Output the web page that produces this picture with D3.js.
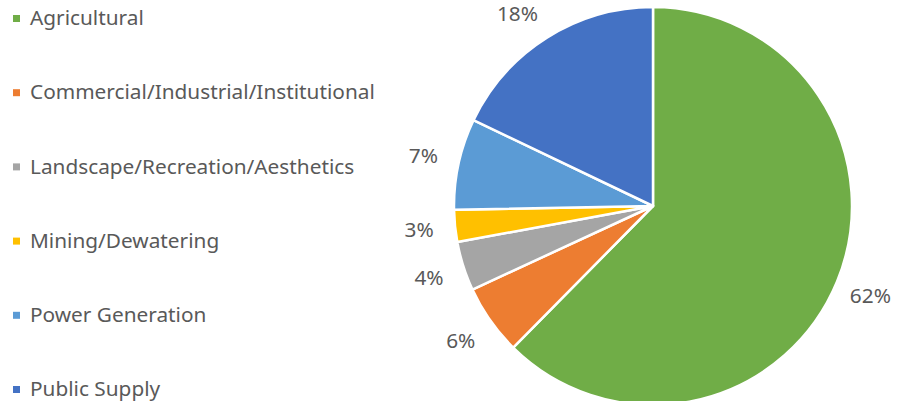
<!DOCTYPE html>
<html lang="en">
  <head>
    <meta charset="utf-8" />
    <script src="https://d3js.org/d3.v7.min.js"></script>
    <style type="text/css">
      body {
        margin: 0;
        background-color: white;
      }
      svg text {
        font-family: "Noto Sans", "Open Sans", sans-serif;
        fill: #595959;
      }
    </style>
  </head>

  <body>
    <svg id="chart" width="904" height="401"></svg>

    <script>
      // categories and values (percent of total use)
      let categories = [
        "Agricultural",
        "Commercial/Industrial/Institutional",
        "Landscape/Recreation/Aesthetics",
        "Mining/Dewatering",
        "Power Generation",
        "Public Supply",
      ];
      let values = [62.4, 5.7, 4.0, 2.6, 7.4, 17.9];
      let colors = ["#70AD47", "#ED7D31", "#A5A5A5", "#FFC000", "#5B9BD5", "#4472C4"];

      let svg = d3.select("#chart");

      let cx = 653;
      let cy = 206;
      let radius = 199;
      let labelRadius = 235;

      let pie = d3.pie().sort(null).value(function (d) { return d; });
      let arcs = pie(values);
      let arc = d3.arc().innerRadius(0).outerRadius(radius);
      let labelArc = d3.arc().innerRadius(labelRadius).outerRadius(labelRadius);

      let g = svg.append("g").attr("transform", "translate(" + cx + "," + cy + ")");

      g.selectAll("path")
        .data(arcs)
        .enter()
        .append("path")
        .attr("d", arc)
        .attr("fill", function (d, i) { return colors[i]; })
        .attr("stroke", "white")
        .attr("stroke-width", 2.5)
        .attr("stroke-linejoin", "round");

      // label position, kept inside the top of the picture
      function labelPos(d) {
        let p = labelArc.centroid(d);
        let minY = 14 - cy;
        if (p[1] < minY) {
          let x = Math.sqrt(labelRadius * labelRadius - minY * minY);
          p = [p[0] < 0 ? -x : x, minY];
        }
        return p;
      }

      g.selectAll("text.label")
        .data(arcs)
        .enter()
        .append("text")
        .attr("class", "label")
        .attr("transform", function (d) {
          return "translate(" + labelPos(d) + ")";
        })
        .attr("text-anchor", "middle")
        .attr("dy", "0.35em")
        .style("font-size", "17px")
        .text(function (d) { return Math.round(d.data) + "%"; });

      // legend
      let legendY = d3.scalePoint().domain(categories).range([18, 389]);
      let legend = svg.append("g");

      let rows = legend.selectAll("g")
        .data(categories)
        .enter()
        .append("g")
        .attr("transform", function (d) { return "translate(0," + legendY(d) + ")"; });

      rows.append("rect")
        .attr("x", 13)
        .attr("y", -3)
        .attr("width", 7)
        .attr("height", 7)
        .attr("fill", function (d, i) { return colors[i]; });

      let texts = rows.append("text")
        .attr("x", 30)
        .attr("dy", "0.35em")
        .style("font-size", "17px")
        .text(function (d) { return d; });

      // fit the longest legend entry to its width in the picture
      let longest = d3.max(texts.nodes(), function (n) { return n.getComputedTextLength(); });
      let size = 17 * 345 / longest;
      texts.style("font-size", size + "px");
      g.selectAll("text.label").style("font-size", size + "px");
    </script>
  </body>
</html>
